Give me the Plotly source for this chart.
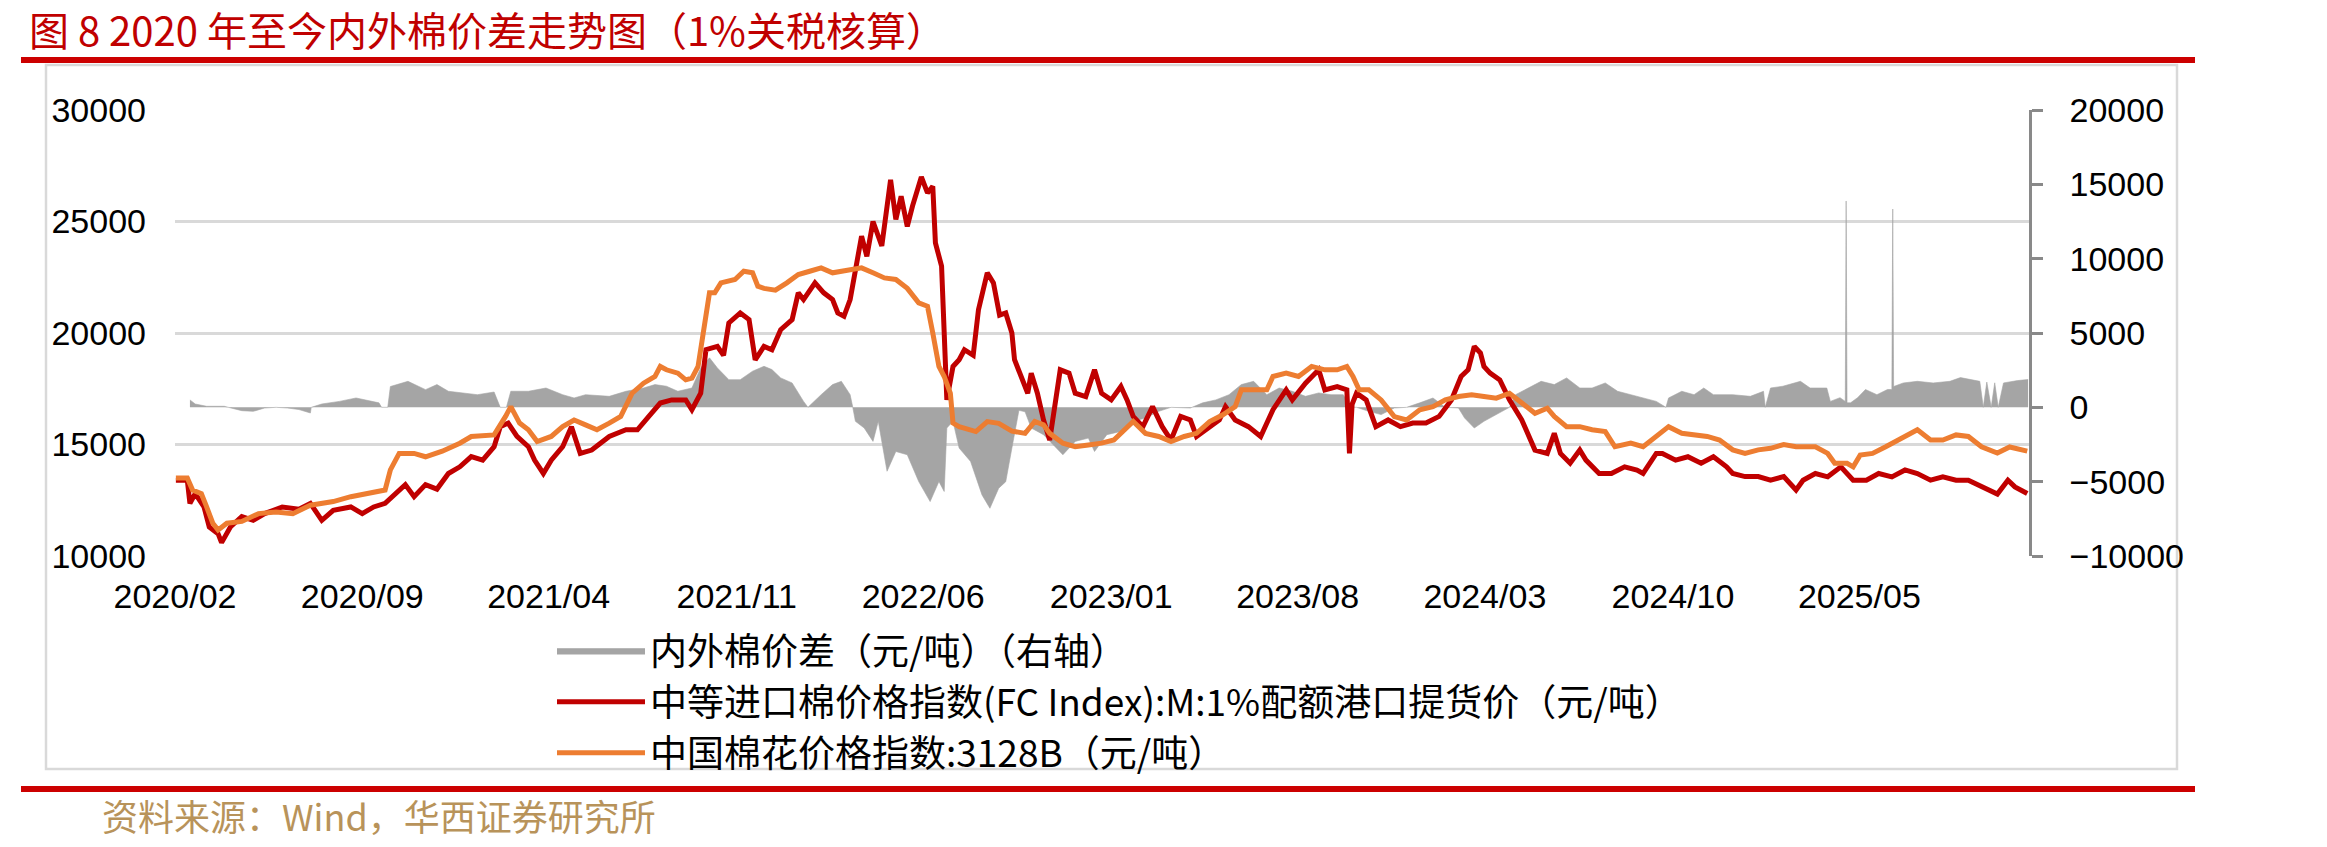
import plotly.graph_objects as go

# ---------------- data ----------------
red_dates = ["2020-02-02","2020-02-15","2020-02-18","2020-02-24","2020-03-05","2020-03-11","2020-03-21","2020-03-25","2020-04-04","2020-04-17",
"2020-04-30","2020-05-13","2020-06-02","2020-06-21","2020-07-04","2020-07-17","2020-07-30","2020-08-19","2020-09-01","2020-09-14",
"2020-09-27","2020-10-10","2020-10-20","2020-10-30","2020-11-12","2020-11-25","2020-12-08","2020-12-21","2021-01-03","2021-01-16",
"2021-01-29","2021-02-05","2021-02-14","2021-02-24","2021-03-09","2021-03-16","2021-03-26","2021-04-04","2021-04-17","2021-04-27",
"2021-05-07","2021-05-20","2021-06-09","2021-06-28","2021-07-11","2021-07-24","2021-08-06","2021-08-19","2021-09-04","2021-09-11",
"2021-09-21","2021-09-27","2021-10-10","2021-10-17","2021-10-23","2021-11-05","2021-11-15","2021-11-22","2021-12-02","2021-12-11",
"2021-12-21","2022-01-03","2022-01-10","2022-01-16","2022-01-29","2022-02-08","2022-02-18","2022-02-24","2022-03-03","2022-03-10",
"2022-03-16","2022-03-23","2022-03-29","2022-04-05","2022-04-15","2022-04-25","2022-05-01","2022-05-07","2022-05-14","2022-05-20",
"2022-05-30","2022-06-06","2022-06-12","2022-06-15","2022-06-22","2022-06-28","2022-07-05","2022-07-12","2022-07-18","2022-07-28",
"2022-08-03","2022-08-13","2022-08-20","2022-08-27","2022-09-03","2022-09-10","2022-09-13","2022-09-20","2022-09-28","2022-10-02",
"2022-10-09","2022-10-16","2022-10-23","2022-11-04","2022-11-14","2022-11-21","2022-12-03","2022-12-13","2022-12-21","2023-01-01",
"2023-01-12","2023-01-19","2023-01-26","2023-02-06","2023-02-17","2023-02-28","2023-03-10","2023-03-21","2023-04-01","2023-04-08",
"2023-04-23","2023-05-04","2023-05-11","2023-05-22","2023-06-06","2023-06-20","2023-07-04","2023-07-19","2023-07-26","2023-08-10",
"2023-08-25","2023-09-01","2023-09-15","2023-09-26","2023-09-29","2023-10-02","2023-10-07","2023-10-18","2023-10-29","2023-11-12",
"2023-11-26","2023-12-10","2023-12-25","2024-01-09","2024-01-23","2024-02-03","2024-02-11","2024-02-18","2024-02-25","2024-02-29",
"2024-03-07","2024-03-18","2024-03-29","2024-04-12","2024-04-27","2024-05-11","2024-05-19","2024-05-26","2024-06-06","2024-06-17",
"2024-06-24","2024-07-09","2024-07-23","2024-08-07","2024-08-21","2024-08-28","2024-09-12","2024-09-19","2024-10-04","2024-10-18",
"2024-11-02","2024-11-16","2024-12-01","2024-12-08","2024-12-22","2025-01-06","2025-01-20","2025-02-04","2025-02-18","2025-02-26",
"2025-03-12","2025-03-26","2025-04-10","2025-04-24","2025-05-09","2025-05-23","2025-06-07","2025-06-22","2025-07-06","2025-07-21",
"2025-08-04","2025-08-19","2025-09-02","2025-09-17","2025-10-05","2025-10-17","2025-10-25","2025-11-08"]
red_values = [13400,13400,12360,12800,12200,11300,11000,10600,11300,11770,
11600,11900,12200,12100,12360,11600,12050,12200,11900,12200,
12360,12800,13200,12660,13200,13000,13700,14000,14460,14300,
14900,15800,15960,15360,14900,14300,13700,14300,14900,15800,
14600,14750,15360,15660,15660,16260,16860,17000,17000,16560,
17300,19250,19400,19000,20450,20900,20600,18800,19400,19250,
20150,20600,21800,21500,22250,21800,21500,20900,20750,21500,
22850,24340,23440,25000,23900,26870,25090,26130,24780,25700,
27000,26280,26580,24040,23000,17000,18500,18800,19250,19000,
21050,22700,22250,20800,20900,20000,18800,18050,17300,18200,
17300,16100,15200,18350,18200,17300,17150,18350,17300,17000,
17600,17000,16260,15800,16700,15800,15200,16260,16100,15360,
15800,16100,16700,16100,15800,15360,16560,17450,17000,17750,
18350,17450,17600,17450,14600,16800,17300,17000,15800,16100,
15800,15960,15960,16260,17000,18050,18350,19400,19100,18500,
18200,17900,17000,16100,14750,14600,15500,14600,14160,14750,
14300,13700,13700,14000,13850,13700,14600,14600,14300,14450,
14160,14450,14000,13700,13560,13560,13400,13560,12960,13400,
13700,13550,14000,13400,13400,13700,13550,13860,13700,13400,
13550,13400,13400,13110,12780,13400,13100,12800]

orange_dates = ["2020-02-02","2020-02-15","2020-02-21","2020-03-02","2020-03-08","2020-03-15","2020-03-21","2020-03-31","2020-04-17","2020-05-06",
"2020-05-26","2020-06-14","2020-07-04","2020-07-30","2020-08-19","2020-09-07","2020-09-27","2020-10-03","2020-10-13","2020-10-30",
"2020-11-12","2020-12-01","2020-12-21","2021-01-03","2021-01-29","2021-02-11","2021-02-17","2021-02-27","2021-03-09","2021-03-19",
"2021-04-04","2021-04-17","2021-04-30","2021-05-13","2021-05-26","2021-06-09","2021-06-22","2021-07-05","2021-07-18","2021-07-31",
"2021-08-06","2021-08-13","2021-08-26","2021-09-04","2021-09-11","2021-09-18","2021-09-24","2021-10-01","2021-10-07","2021-10-14",
"2021-10-30","2021-11-09","2021-11-19","2021-11-25","2021-12-02","2021-12-15","2021-12-28","2022-01-10","2022-01-23","2022-02-05",
"2022-02-18","2022-03-03","2022-03-23","2022-04-05","2022-04-18","2022-05-01","2022-05-14","2022-05-27","2022-06-06","2022-06-12",
"2022-06-19","2022-06-25","2022-07-02","2022-07-05","2022-07-12","2022-07-31","2022-08-13","2022-08-26","2022-09-10","2022-09-25",
"2022-10-06","2022-10-16","2022-10-23","2022-11-07","2022-11-21","2022-12-06","2022-12-21","2023-01-04","2023-01-19","2023-01-26",
"2023-02-09","2023-02-24","2023-03-10","2023-03-25","2023-04-08","2023-04-23","2023-05-08","2023-05-22","2023-05-29","2023-06-27",
"2023-07-04","2023-07-19","2023-08-02","2023-08-17","2023-09-01","2023-09-15","2023-09-26","2023-10-03","2023-10-10","2023-10-21",
"2023-11-04","2023-11-19","2023-12-03","2023-12-18","2024-01-02","2024-01-16","2024-01-31","2024-02-15","2024-02-29","2024-03-14",
"2024-03-29","2024-04-12","2024-04-27","2024-05-11","2024-05-19","2024-06-02","2024-06-17","2024-07-01","2024-07-16","2024-07-27",
"2024-08-14","2024-08-28","2024-09-12","2024-09-26","2024-10-11","2024-10-25","2024-11-09","2024-11-23","2024-12-08","2024-12-22",
"2025-01-06","2025-01-20","2025-02-04","2025-02-18","2025-03-12","2025-03-26","2025-04-03","2025-04-17","2025-04-24","2025-05-02",
"2025-05-16","2025-05-31","2025-06-14","2025-07-06","2025-07-21","2025-08-04","2025-08-19","2025-09-02","2025-09-17","2025-10-05",
"2025-10-19","2025-11-08"]
orange_values = [13500,13500,12960,12800,12200,11470,11170,11470,11550,11900,
11970,11900,12280,12440,12660,12800,12960,13860,14600,14600,
14450,14700,15060,15360,15430,16260,16700,15960,15660,15130,
15360,15800,16100,15880,15660,15960,16260,17300,17750,18050,
18500,18350,18200,17900,17980,18500,20000,21800,21800,22250,
22400,22770,22700,22100,22000,21920,22250,22620,22770,22920,
22700,22770,22920,22700,22470,22400,22000,21350,21200,20000,
18500,18050,17300,15960,15800,15580,16030,15950,15600,15500,
16030,15880,15500,15060,14900,14980,15060,15200,15800,16030,
15500,15360,15130,15360,15500,16030,16330,16700,17450,17450,
18050,18200,18050,18500,18350,18350,18500,18050,17450,17450,
17000,16250,16100,16560,16700,17000,17150,17230,17150,17080,
17300,16850,16400,16630,16260,15800,15800,15660,15580,14900,
15060,14900,15360,15800,15500,15430,15360,15200,14760,14600,
14760,14830,15000,14900,14900,14600,14160,14160,14000,14530,
14600,14900,15200,15660,15200,15200,15430,15360,14900,14620,
14890,14700]

spread_dates = ["2020-02-18","2020-02-24","2020-03-08","2020-03-28","2020-04-17","2020-04-30","2020-05-13","2020-05-26","2020-06-08","2020-06-21",
"2020-07-04","2020-07-05","2020-07-17","2020-08-06","2020-08-25","2020-09-14","2020-09-20","2020-09-23","2020-09-30","2020-10-03",
"2020-10-23","2020-11-12","2020-11-25","2020-12-08","2020-12-21","2021-01-10","2021-01-29","2021-02-05","2021-02-12","2021-02-17",
"2021-03-09","2021-03-29","2021-04-17","2021-04-30","2021-05-13","2021-06-09","2021-06-28","2021-07-18","2021-07-31","2021-08-13",
"2021-08-26","2021-09-11","2021-09-21","2021-10-01","2021-10-10","2021-10-23","2021-11-05","2021-11-19","2021-12-02","2021-12-11",
"2021-12-21","2022-01-03","2022-01-16","2022-01-21","2022-02-05","2022-02-18","2022-02-28","2022-03-10","2022-03-13","2022-03-16",
"2022-03-26","2022-04-05","2022-04-11","2022-04-21","2022-05-01","2022-05-14","2022-05-27","2022-06-09","2022-06-19","2022-06-25",
"2022-06-28","2022-07-05","2022-07-12","2022-07-25","2022-08-07","2022-08-16","2022-08-26","2022-09-03","2022-09-10","2022-09-18",
"2022-09-25","2022-10-02","2022-10-16","2022-10-31","2022-11-07","2022-11-21","2022-12-06","2022-12-13","2022-12-27","2023-01-12",
"2023-01-26","2023-02-09","2023-02-24","2023-03-10","2023-04-01","2023-04-15","2023-04-30","2023-05-15","2023-05-29","2023-06-12",
"2023-06-27","2023-07-11","2023-07-26","2023-08-10","2023-08-25","2023-09-08","2023-09-22","2023-09-30","2023-10-07","2023-10-21",
"2023-11-04","2023-11-19","2023-12-03","2023-12-18","2024-01-02","2024-01-16","2024-01-31","2024-02-07","2024-02-18","2024-02-29",
"2024-03-14","2024-03-29","2024-04-05","2024-04-20","2024-05-04","2024-05-19","2024-06-02","2024-06-17","2024-07-01","2024-07-16",
"2024-07-30","2024-08-14","2024-08-28","2024-09-12","2024-09-23","2024-09-26","2024-10-11","2024-10-25","2024-11-05","2024-11-16",
"2024-12-08","2024-12-28","2025-01-12","2025-01-14","2025-01-20","2025-02-03","2025-02-23","2025-03-06","2025-03-25","2025-03-29",
"2025-04-09","2025-04-15","2025-04-16","2025-04-17","2025-04-21","2025-04-29","2025-05-08","2025-05-21","2025-06-02","2025-06-07",
"2025-06-08","2025-06-09","2025-06-20","2025-07-06","2025-07-24","2025-08-12","2025-08-24","2025-09-04","2025-09-15","2025-09-19",
"2025-09-23","2025-09-28","2025-10-02","2025-10-06","2025-10-12","2025-10-28","2025-11-09"]
spread_values = [500,225,70,70,-225,-270,-45,0,-45,-150,
-380,0,225,400,630,400,300,0,0,1400,
1750,1190,1530,1080,970,850,1030,0,0,1080,
1080,1300,850,630,850,740,1080,1300,1530,1420,
1080,1300,2650,3330,2650,1860,1860,2430,2760,2540,
1980,1640,400,0,850,1530,1750,850,0,-940,
-1390,-2290,-940,-4300,-2970,-3190,-4990,-6340,-4990,-5660,
-1390,-940,-2740,-3640,-5890,-6790,-5440,-5000,-2740,-200,
-300,-1390,-1840,-2740,-3190,-2290,-2070,-2970,-1840,-1620,
-940,-720,-270,0,-45,300,500,850,1530,1750,
850,1300,1080,740,970,850,850,0,0,-270,
-490,-45,0,300,630,0,-45,-720,-1390,-940,
-490,0,850,1300,1750,1530,1980,1300,1300,1640,
1080,850,630,400,0,630,1080,850,1300,850,
850,740,1080,0,1300,1420,1750,1300,1300,400,
650,400,13880,300,300,650,1200,850,1200,1200,
13340,1400,1640,1750,1640,1750,2000,1870,1750,0,
1700,0,1650,0,1640,1800,1870]

tick_labels = ["2020/02","2020/09","2021/04","2021/11","2022/06","2023/01","2023/08","2024/03","2024/10","2025/05"]
left_ticks = [10000, 15000, 20000, 25000, 30000]
right_ticks = [-10000, -5000, 0, 5000, 10000, 15000, 20000]

name_spread = "内外棉价差（元/吨）（右轴）"
name_fc = "中等进口棉价格指数(FC Index):M:1%配额港口提货价（元/吨）"
name_cc = "中国棉花价格指数:3128B（元/吨）"
title_text = "图 8 2020 年至今内外棉价差走势图（1%关税核算）"
source_text = "资料来源：Wind，华西证券研究所"

# ---------------- layout helpers ----------------
W, H = 2327, 847
PL, PR, PT, PB = 175, 2029, 110, 556
def px(x):
    return (x - PL) / (PR - PL)
def py(y):
    return (PB - y) / (PB - PT)

CJK = "Noto Sans CJK SC, sans-serif"
LAT = "Liberation Sans, Arial, sans-serif"

fig = go.Figure()
fig.add_trace(go.Scatter(
    x=spread_dates, y=spread_values, name=name_spread, yaxis="y",
    mode="lines", fill="tozeroy", fillcolor="#A5A5A5",
    line=dict(color="#A5A5A5", width=0.6)))
fig.add_trace(go.Scatter(
    x=red_dates, y=red_values, name=name_fc, yaxis="y2",
    mode="lines", line=dict(color="#C00000", width=5)))
fig.add_trace(go.Scatter(
    x=orange_dates, y=orange_values, name=name_cc, yaxis="y2",
    mode="lines", line=dict(color="#ED7D31", width=5)))

tickvals = [t.replace("/", "-") + "-01" for t in tick_labels]

fig.update_layout(
    width=W, height=H,
    margin=dict(l=PL, r=W - PR, t=PT, b=H - PB),
    paper_bgcolor="white", plot_bgcolor="rgba(0,0,0,0)",
    xaxis=dict(type="date", range=["2020-02-01", "2025-11-10"],
               tickvals=tickvals, ticktext=tick_labels,
               showgrid=False, showline=False, zeroline=False, ticks="",
               tickfont=dict(family=LAT, size=34, color="black"),
               ticklabelstandoff=17),
    yaxis=dict(side="right", range=[-10000, 20000], tickvals=right_ticks,
               tickformat="d",
               showgrid=False, zeroline=False,
               showline=True, linecolor="#898989", linewidth=2.5,
               ticks="outside", ticklen=11, tickwidth=2.5, tickcolor="#898989",
               tickfont=dict(family=LAT, size=34, color="black"),
               ticklabelstandoff=20),
    yaxis2=dict(side="left", overlaying="y", range=[10000, 30000], tickvals=left_ticks,
                tickformat="d",
                showgrid=True, gridcolor="#D9D9D9", gridwidth=2.5,
                zeroline=False, showline=False, ticks="",
                tickfont=dict(family=LAT, size=34, color="black"),
                ticklabelstandoff=28),
    showlegend=True,
    legend=dict(x=px(552), y=py(620), xanchor="left", yanchor="top",
                orientation="v", bgcolor="rgba(0,0,0,0)",
                font=dict(family=CJK, size=37, color="black"),
                itemwidth=88, tracegroupgap=0, traceorder="normal"),
)

# frame, rules, title and source
fig.add_shape(type="rect", xref="paper", yref="paper",
              x0=px(46), x1=px(2177), y0=py(769), y1=py(65),
              line=dict(color="#D9D9D9", width=2.5), fillcolor="rgba(0,0,0,0)", layer="below")
fig.add_shape(type="rect", xref="paper", yref="paper",
              x0=px(21), x1=px(2195), y0=py(63), y1=py(57),
              line=dict(width=0), fillcolor="#CC0000")
fig.add_shape(type="rect", xref="paper", yref="paper",
              x0=px(21), x1=px(2195), y0=py(792), y1=py(786),
              line=dict(width=0), fillcolor="#CC0000")
fig.add_annotation(xref="paper", yref="paper", x=px(27), y=py(29),
                   xanchor="left", yanchor="middle", showarrow=False,
                   text=title_text, font=dict(family=CJK, size=40, color="#C00000"))
fig.add_annotation(xref="paper", yref="paper", x=px(100), y=py(815),
                   xanchor="left", yanchor="middle", showarrow=False,
                   text=source_text, font=dict(family=CJK, size=36, color="#B8935A"))

fig.write_html("out.html")
